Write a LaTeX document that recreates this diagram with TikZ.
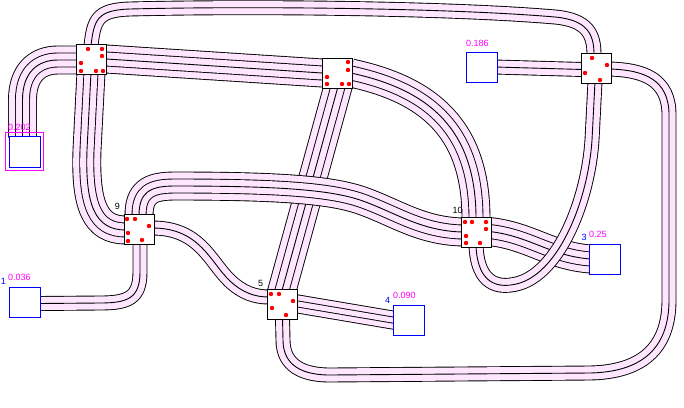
\documentclass[tikz,border=0pt]{standalone}
\usepackage{fontspec}
\setmainfont{Liberation Sans}
\usepackage{tikz}
\usetikzlibrary{calc, backgrounds}
\definecolor{wirepink}{RGB}{255,230,255}
\definecolor{labmag}{RGB}{255,0,255}
\definecolor{labblue}{RGB}{0,0,255}

\newcommand{\labfont}{\fontsize{9}{10}\selectfont}

% bundle of #2 wires, each #1 wide, along path #3
\newcommand{\wirebundle}[3][7]{%
  \pgfmathtruncatemacro{\wbnext}{#2-2}%
  \foreach \i in {#2,\wbnext,...,0}{%
    \pgfmathsetmacro{\wbout}{\i*#1+0.9}%
    \draw[black, line width=\wbout pt, line join=round] #3;
    \ifnum\i>0
      \pgfmathsetmacro{\wbin}{\i*#1-0.9}%
      \draw[wirepink, line width=\wbin pt, line join=round] #3;
    \fi
  }%
}

\tikzset{
  switchbox/.style={draw=black, fill=white, line width=0.8pt, minimum size=30pt, inner sep=0pt},
  blockbox/.style={draw=labblue, fill=white, line width=0.9pt, minimum width=31pt, minimum height=30pt, inner sep=0pt},
  valuelabel/.style={text=labmag, font=\labfont, inner sep=0pt, anchor=west},
  idlabel/.style={text=labblue, font=\labfont, inner sep=0pt},
  swlabel/.style={text=black, font=\labfont, inner sep=0pt},
  reddot/.style={fill=red},
}

\begin{document}
\begin{tikzpicture}[x=1pt, y=-1pt]
  \useasboundingbox (0,0) rectangle (684,407);

  % switch boxes
  \node[switchbox] (sA) at (91,59) {};
  \node[switchbox] (sB) at (337.5,73) {};
  \node[switchbox] (sC) at (596,68) {};
  \node[switchbox] (s9) at (139,229) {};
  \node[switchbox] (s10) at (476,232) {};
  \node[switchbox] (s5) at (282.5,304) {};

  % blocks
  \node[blockbox, minimum height=31pt] (b0) at (24.5,151.5) {};
  \draw[labmag, line width=0.9pt] ($(b0.north west)+(-3,-3)$) rectangle ($(b0.south east)+(3,3)$);
  \node[blockbox] (b186) at (481.5,67) {};
  \node[blockbox] (b3) at (604.5,259) {};
  \node[blockbox] (b1) at (24.5,302) {};
  \node[blockbox] (b4) at (408.5,320) {};

  \begin{pgfonlayer}{background}
    % block 0.202 to top-left switch
    \wirebundle{4}{($(b0.north)+(-2,2)$) -- (22.5,100) .. controls (22.5,72) and (38,60) .. (58,60) -- ($(sA.west)+(2,1)$)}
    % top run
    \wirebundle{2}{($(sA.north)+(0,2)$) .. controls (94,20) and (97,10) .. (130,9) .. controls (250,6) and (450,8) .. (555,17) .. controls (588,20) and (594,35) .. ($(sC.north)+(-2,2)$)}
    \wirebundle{4}{($(sA.east)!-4pt!(sB.west)$) -- ($(sB.west)!-4pt!(sA.east)$)}
    \wirebundle{4}{($(sB.east)+(-2,0)$) .. controls (430,90) and (476,130) .. ($(s10.north)+(0,2)$)}
    \wirebundle{4}{($(sB.south)!-6pt!(s5.north)$) -- ($(s5.north)!-6pt!(sB.south)$)}
    \wirebundle{4}{($(sA.south)+(0,-2)$) -- (87,150) .. controls (85,205) and (95,230) .. ($(s9.west)+(2,1)$)}
    \wirebundle{2}{($(s9.south)+(1,-2)$) -- (140,272) .. controls (140,298) and (128,303) .. (100,303) -- ($(b1.east)+(-2,1.5)$)}
    \wirebundle{2}{($(s9.east)+(-2,-1)$) .. controls (200,228) and (210,262) .. (230,281) .. controls (243,293) and (255,297) .. ($(s5.west)+(2,-7)$)}
    \wirebundle[6]{3}{($(s5.east)!-4pt!(b4.west)$) -- ($(b4.west)!-4pt!(s5.east)$)}
    \wirebundle{2}{($(b186.east)!-4pt!(sC.west)$) -- ($(sC.west)+(2,1.5)$)}
    % outer loop
    \wirebundle{2}{($(sC.east)+(-2,1)$) .. controls (645,70) and (669,80) .. (669,115) -- (669,300) .. controls (669,350) and (640,372) .. (590,373) -- (330,375) .. controls (295,375) and (283,360) .. (283,340) -- ($(s5.south)+(0,-2)$)}
    \wirebundle{4}{($(s10.east)+(-2,-0.5)$) .. controls (530,236) and (550,256) .. ($(b3.west)+(2,0)$)}
    \wirebundle{2}{($(sC.south)+(-1,-2)$) -- (592,140) .. controls (588,200) and (560,270) .. (520,283) .. controls (490,292) and (477,275) .. ($(s10.south)+(0,-2)$)}
    \wirebundle{4}{($(s9.north)+(0,2)$) .. controls (139,192) and (150,186) .. (175,186) .. controls (280,186) and (330,190) .. (360,200) .. controls (395,212) and (420,231) .. ($(s10.west)+(2,0)$)}
  \end{pgfonlayer}

  % pins
  \foreach \p in {(88,49),(102,49),(102,56),(81,63),(81,71),(96,71),(103,71),
                  (348,62),(348,70),(327,77),(327,84),(342,84),(349,84),
                  (592,58),(607,65),(585,73),(600,80),
                  (127,219),(135,219),(149,226),(128,233),(128,241),(142,240),
                  (465,222),(472,222),(486,222),(486,229),(466,236),(466,243),(480,243),
                  (271,294),(279,294),(293,301),(272,308),(286,315)}
    \fill[reddot] \p circle (2.2);

  % labels
  \node[valuelabel] (v0) at (8,127) {0.202};
  \node[valuelabel] (v186) at (466,43) {0.186};
  \node[valuelabel] (v3) at (589,234.5) {0.25};
  \node[valuelabel] (v1) at (8,277) {0.036};
  \node[valuelabel] (v4) at (393,295.5) {0.090};
  \node[idlabel] (n3) at (584,237) {3};
  \node[idlabel] (n1) at (3.5,281.5) {1};
  \node[idlabel] (n4) at (387.5,300) {4};
  \node[swlabel] (n9) at (117.5,206.5) {9};
  \node[swlabel] (n10) at (457.5,210.5) {10};
  \node[swlabel] (n5) at (260.5,283) {5};
\end{tikzpicture}
\end{document}
